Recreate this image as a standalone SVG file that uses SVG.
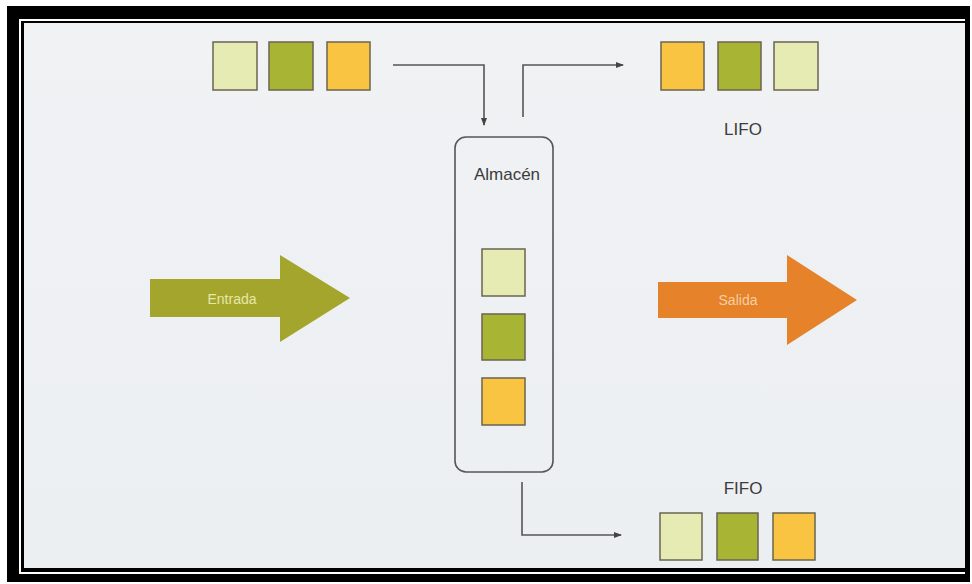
<svg xmlns="http://www.w3.org/2000/svg" width="972" height="584" viewBox="0 0 972 584">
<defs>
<style>
.lbl{font-family:"Liberation Sans",Arial,sans-serif;fill:#3c3c3c;text-anchor:middle}
.sq{stroke:#6b6450;stroke-width:1.5}
.lt{fill:#e5ebb2}
.ol{fill:#a8b534}
.or{fill:#f8c441}
.conn{fill:none;stroke:#555;stroke-width:1.6}
</style>
<marker id="ah" markerWidth="8" markerHeight="8" refX="7" refY="4" orient="auto" markerUnits="userSpaceOnUse">
<path d="M0,1 L8,4 L0,7 Z" fill="#444"/>
</marker>
<linearGradient id="bg" x1="0" y1="0" x2="0" y2="1">
<stop offset="0" stop-color="#f0f2f4"/>
<stop offset="1" stop-color="#eceff2"/>
</linearGradient>
</defs>
<rect width="972" height="584" fill="#fff"/>
<rect x="7" y="6" width="963" height="576" fill="#000"/>
<rect x="19" y="19" width="946" height="555" fill="#fff"/>
<rect x="21" y="21" width="944" height="551" fill="#000"/>
<rect x="24" y="23" width="941" height="545" fill="url(#bg)"/>

<g id="entrada">
<polygon points="150,279 280,279 280,255 350,298 280,342 280,317 150,317" fill="#a4a52c"/>
<text x="232" y="304" class="lbl" style="fill:#e6e8a8;font-size:14px">Entrada</text>
</g>
<g id="salida">
<polygon points="658,282 787,282 787,255 857,300 787,345 787,318 658,318" fill="#e5822a"/>
<text x="738" y="305" class="lbl" style="fill:#f6cfa2;font-size:14px">Salida</text>
</g>

<g id="input-items">
<rect x="213" y="42" width="44" height="48" class="sq lt"/>
<rect x="269" y="42" width="44" height="48" class="sq ol"/>
<rect x="327" y="42" width="43" height="48" class="sq or"/>
</g>

<g id="almacen">
<rect x="455" y="137" width="98" height="335" rx="11" fill="none" stroke="#555" stroke-width="1.6"/>
<text x="507" y="180" class="lbl" style="font-size:17px">Almacén</text>
<rect x="482" y="249" width="43" height="47" class="sq lt"/>
<rect x="482" y="314" width="43" height="46" class="sq ol"/>
<rect x="482" y="378" width="43" height="47" class="sq or"/>
</g>

<g id="lifo">
<rect x="661" y="42" width="43" height="48" class="sq or"/>
<rect x="718" y="42" width="43" height="48" class="sq ol"/>
<rect x="774" y="42" width="44" height="48" class="sq lt"/>
<text x="743" y="135" class="lbl" style="font-size:17px">LIFO</text>
</g>

<g id="fifo">
<text x="743" y="494" class="lbl" style="font-size:17px">FIFO</text>
<rect x="660" y="513" width="42" height="47" class="sq lt"/>
<rect x="717" y="513" width="41" height="47" class="sq ol"/>
<rect x="773" y="513" width="42" height="47" class="sq or"/>
</g>

<g id="connectors">
<path d="M393,65 H484 V125" class="conn" marker-end="url(#ah)"/>
<path d="M523,117 V65 H623" class="conn" marker-end="url(#ah)"/>
<path d="M522,482 V535 H621" class="conn" marker-end="url(#ah)"/>
</g>
</svg>
